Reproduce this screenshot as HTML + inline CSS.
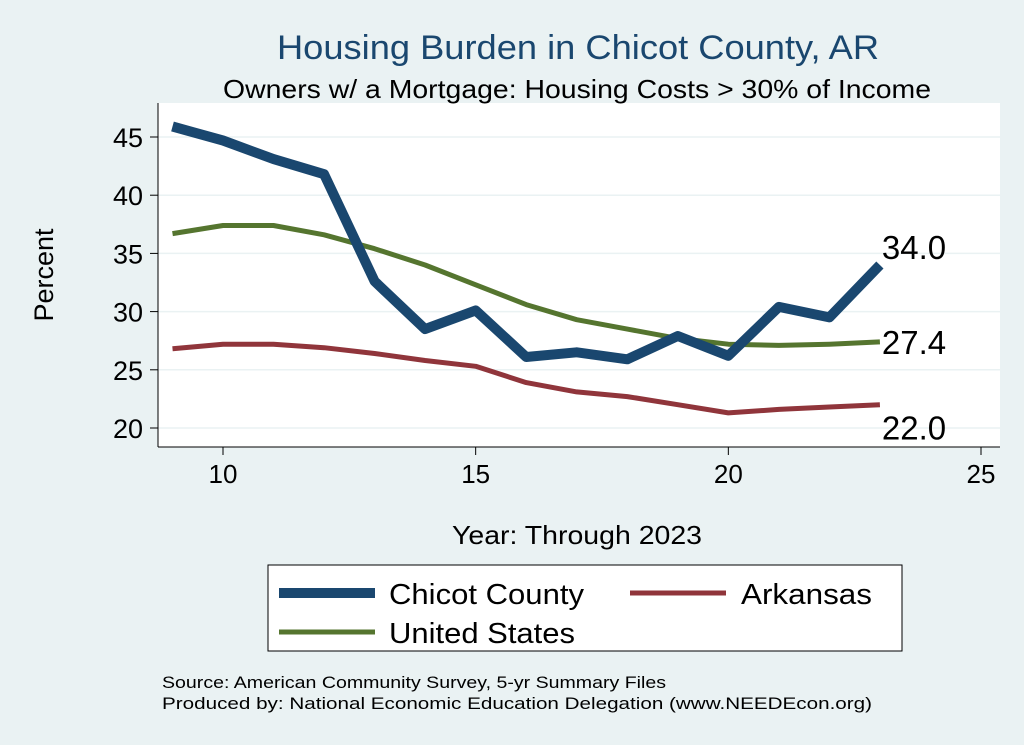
<!DOCTYPE html>
<html><head><meta charset="utf-8"><style>
body{margin:0;background:#eaf2f3;}
svg{display:block;font-family:"Liberation Sans",Arial,sans-serif;}
</style></head><body>
<svg id="chart" width="1024" height="745" viewBox="0 0 1024 745">
<rect x="0" y="0" width="1024" height="745" fill="#eaf2f3"/>
<rect x="158" y="103" width="842" height="344" fill="#ffffff"/>
<text x="578" y="59" text-anchor="middle" font-size="34" textLength="602" lengthAdjust="spacingAndGlyphs" fill="#1a476f">Housing Burden in Chicot County, AR</text>
<text x="577" y="98" text-anchor="middle" font-size="26" textLength="708" lengthAdjust="spacingAndGlyphs" fill="#000">Owners w/ a Mortgage: Housing Costs &gt; 30% of Income</text>
<g id="grid"></g>
<g id="axes"></g>
<g id="series"></g>
<text x="577" y="544" text-anchor="middle" font-size="26" textLength="250" lengthAdjust="spacingAndGlyphs">Year: Through 2023</text>
<text transform="translate(53,275) rotate(-90)" text-anchor="middle" font-size="27">Percent</text>
<g>
<rect x="268" y="565" width="634" height="86" fill="#fff" stroke="#000" stroke-width="1"/>
<line x1="279" y1="593" x2="375" y2="593" stroke="#1a476f" stroke-width="10"/>
<text x="389" y="604" font-size="29" textLength="195" lengthAdjust="spacingAndGlyphs">Chicot County</text>
<line x1="630" y1="593" x2="726" y2="593" stroke="#90353b" stroke-width="5"/>
<text x="741" y="604" font-size="29" textLength="131" lengthAdjust="spacingAndGlyphs">Arkansas</text>
<line x1="279" y1="632" x2="375" y2="632" stroke="#55752f" stroke-width="5"/>
<text x="389" y="643" font-size="29" textLength="186" lengthAdjust="spacingAndGlyphs">United States</text>
</g>
<text x="162" y="688" font-size="17" textLength="504" lengthAdjust="spacingAndGlyphs">Source: American Community Survey, 5-yr Summary Files</text>
<text x="162" y="709" font-size="17" textLength="710" lengthAdjust="spacingAndGlyphs">Produced by: National Economic Education Delegation (www.NEEDEcon.org)</text>
</svg>
<script>
const years=[9,10,11,12,13,14,15,16,17,18,19,20,21,22,23];
const chicot=[45.9,44.7,43.1,41.8,32.6,28.5,30.1,26.1,26.5,25.9,27.9,26.2,30.4,29.5,34.0];
const unitedStates=[36.7,37.4,37.4,36.6,35.4,34.0,32.3,30.6,29.3,28.5,27.7,27.2,27.1,27.2,27.4];
const arkansas=[26.8,27.2,27.2,26.9,26.4,25.8,25.3,23.9,23.1,22.7,22.0,21.3,21.6,21.8,22.0];
const xTicks=[10,15,20,25];
const yTicks=[20,25,30,35,40,45];
const NS='http://www.w3.org/2000/svg';
function xs(v){return 223+(v-10)*(758/15);}
function ys(v){return 428-(v-20)*(291/25);}
function mk(tag,attrs,parent){const e=document.createElementNS(NS,tag);for(const k in attrs)e.setAttribute(k,attrs[k]);parent.appendChild(e);return e;}
const grid=document.getElementById('grid'),axes=document.getElementById('axes'),ser=document.getElementById('series');
yTicks.forEach(t=>{
 const g=mk('line',{x1:158,x2:1000,y1:ys(t),y2:ys(t),stroke:'#eaf2f3','stroke-width':1.5},grid);
 
 
 const tk=mk('line',{x1:150,x2:158,y1:ys(t),y2:ys(t),stroke:'#000','stroke-width':1},axes);
 
 
 const tx=mk('text',{x:143,y:ys(t)+10,'text-anchor':'end','font-size':27},axes);tx.textContent=t;
 
 
});
const ya=mk('line',{x1:158,x2:158,y1:103,y2:447,stroke:'#000','stroke-width':1},axes);


const xa=mk('line',{x1:158,x2:1000,y1:447,y2:447,stroke:'#000','stroke-width':1},axes);


xTicks.forEach(t=>{
 const tk=mk('line',{x1:xs(t),x2:xs(t),y1:447,y2:455,stroke:'#000','stroke-width':1},axes);
 
 
 const tx=mk('text',{x:xs(t),y:483,'text-anchor':'middle','font-size':26},axes);tx.textContent=t;
 
 
});
function line(vals,color,w,name){
 const d=vals.map((v,i)=>(i?'L':'M')+xs(years[i]).toFixed(1)+','+ys(v).toFixed(1)).join(' ');
 const p=mk('path',{d:d,fill:'none',stroke:color,'stroke-width':w,'stroke-linejoin':'round'},ser);
 
 
}
line(arkansas,'#90353b',5,'line-arkansas');
line(unitedStates,'#55752f',5,'line-united-states');
line(chicot,'#1a476f',10,'line-chicot-county');
function lab(vals,name,dy){
 const v=vals[vals.length-1];
 const t=mk('text',{x:xs(years[years.length-1])+2,y:ys(v)+dy,'font-size':33},ser);
 t.textContent=v.toFixed(1);
 
 
}
lab(chicot,'end-label-chicot',-6);
lab(unitedStates,'end-label-us',12);
lab(arkansas,'end-label-arkansas',35);
</script>
</body></html>
